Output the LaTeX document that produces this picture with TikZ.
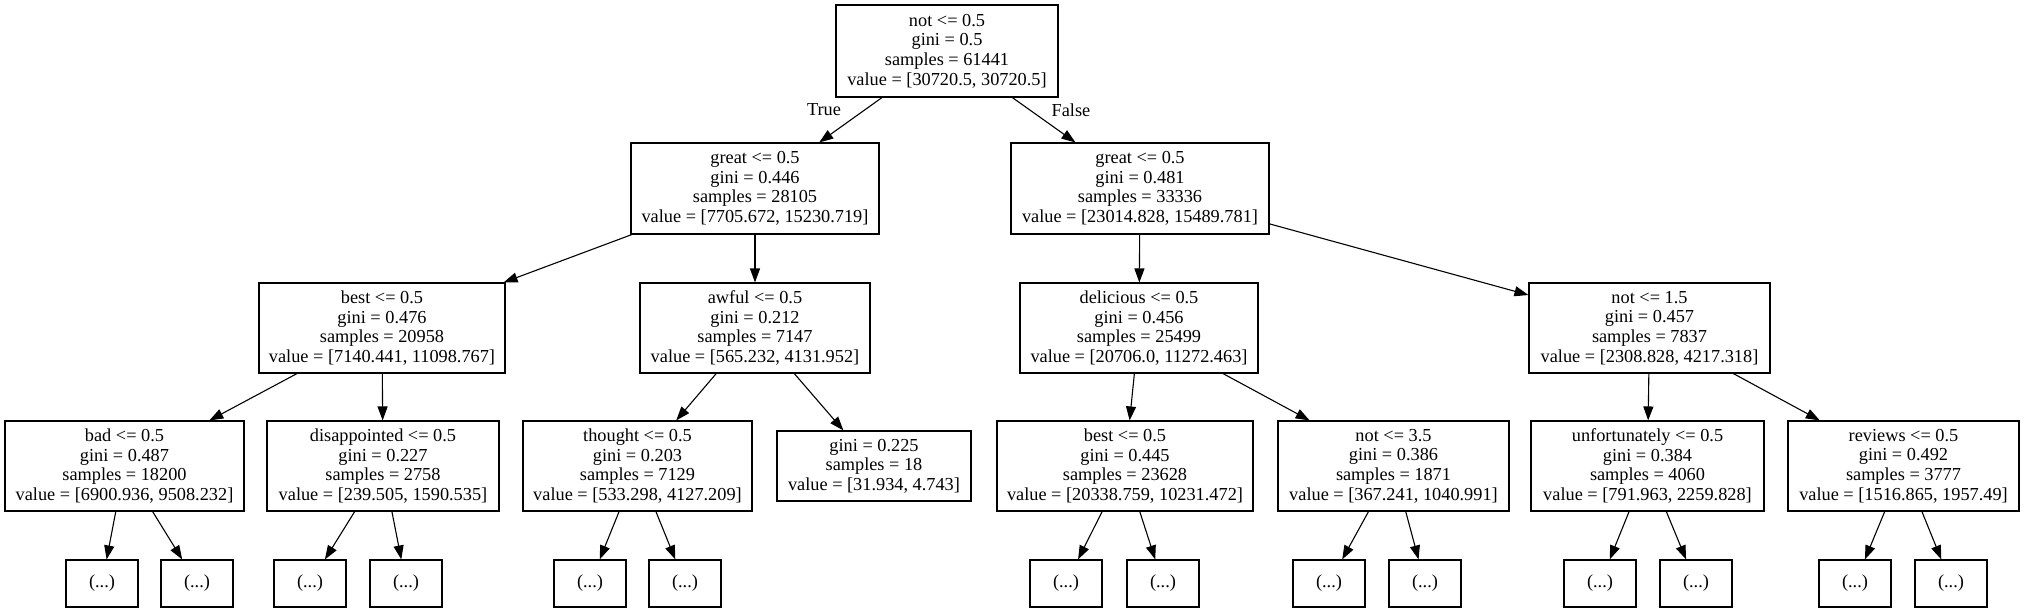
\documentclass[tikz,border=0pt]{standalone}
\usepackage{fontspec}
\setmainfont{Liberation Serif}
\usetikzlibrary{arrows.meta}
\tikzset{
  tbox/.style={draw, rectangle, line width=1.1pt, align=center, inner sep=0pt,
    minimum height=90pt, font=\fontsize{18.3}{19.6}\selectfont},
  ebox/.style={draw, rectangle, line width=1.1pt, inner sep=0pt,
    minimum width=72pt, minimum height=47pt, font=\fontsize{18.3}{19.6}\selectfont},
  edge/.style={line width=1.1pt, -{Triangle[length=14pt,width=10pt]}},
  elab/.style={font=\fontsize{18.3}{19.6}\selectfont, inner sep=0pt}
}
\begin{document}
\begin{tikzpicture}[x=1pt,y=-1pt]
\useasboundingbox (0,0) rectangle (2024,613);
% level 0
\node[tbox, minimum width=222pt, minimum height=92pt] (root) at (947,51) {not <= 0.5\\gini = 0.5\\samples = 61441\\value = [30720.5, 30720.5]};
% level 1
\node[tbox, minimum width=248pt, minimum height=91pt] (gL) at (755,188.5) {great <= 0.5\\gini = 0.446\\samples = 28105\\value = [7705.672, 15230.719]};
\node[tbox, minimum width=258pt, minimum height=91pt] (gR) at (1140,188.5) {great <= 0.5\\gini = 0.481\\samples = 33336\\value = [23014.828, 15489.781]};
% level 2
\node[tbox, minimum width=246pt] (best1) at (382,328) {best <= 0.5\\gini = 0.476\\samples = 20958\\value = [7140.441, 11098.767]};
\node[tbox, minimum width=230pt] (awful) at (755,328) {awful <= 0.5\\gini = 0.212\\samples = 7147\\value = [565.232, 4131.952]};
\node[tbox, minimum width=238pt] (deli) at (1139,328) {delicious <= 0.5\\gini = 0.456\\samples = 25499\\value = [20706.0, 11272.463]};
\node[tbox, minimum width=241pt] (not15) at (1649.5,328) {not <= 1.5\\gini = 0.457\\samples = 7837\\value = [2308.828, 4217.318]};
% level 3
\node[tbox, minimum width=239pt] (bad) at (124.5,466) {bad <= 0.5\\gini = 0.487\\samples = 18200\\value = [6900.936, 9508.232]};
\node[tbox, minimum width=232pt] (disap) at (383,466) {disappointed <= 0.5\\gini = 0.227\\samples = 2758\\value = [239.505, 1590.535]};
\node[tbox, minimum width=229pt] (thought) at (637.5,466) {thought <= 0.5\\gini = 0.203\\samples = 7129\\value = [533.298, 4127.209]};
\node[tbox, minimum width=194pt, minimum height=70pt] (leaf) at (874,466) {gini = 0.225\\samples = 18\\value = [31.934, 4.743]};
\node[tbox, minimum width=256pt] (best2) at (1125,466) {best <= 0.5\\gini = 0.445\\samples = 23628\\value = [20338.759, 10231.472]};
\node[tbox, minimum width=231pt] (not35) at (1393.5,466) {not <= 3.5\\gini = 0.386\\samples = 1871\\value = [367.241, 1040.991]};
\node[tbox, minimum width=233pt] (unf) at (1647.5,466) {unfortunately <= 0.5\\gini = 0.384\\samples = 4060\\value = [791.963, 2259.828]};
\node[tbox, minimum width=231pt] (rev) at (1903.5,466) {reviews <= 0.5\\gini = 0.492\\samples = 3777\\value = [1516.865, 1957.49]};
% level 4
\node[ebox] (e1) at (102,583.5) {(...)};
\node[ebox] (e2) at (197,583.5) {(...)};
\node[ebox] (e3) at (310,583.5) {(...)};
\node[ebox] (e4) at (406,583.5) {(...)};
\node[ebox] (e5) at (590,583.5) {(...)};
\node[ebox] (e6) at (685,583.5) {(...)};
\node[ebox] (e7) at (1066,583.5) {(...)};
\node[ebox] (e8) at (1163,583.5) {(...)};
\node[ebox] (e9) at (1329,583.5) {(...)};
\node[ebox] (e10) at (1425,583.5) {(...)};
\node[ebox] (e11) at (1600,583.5) {(...)};
\node[ebox] (e12) at (1696,583.5) {(...)};
\node[ebox] (e13) at (1855,583.5) {(...)};
\node[ebox] (e14) at (1951,583.5) {(...)};
% edges
\draw[edge] (root) -- (gL);
\draw[edge] (root) -- (gR);
\draw[edge] (gL) -- (best1);
\draw[edge] (gL) -- (awful);
\draw[edge] (gR) -- (deli);
\draw[edge] (gR) -- (not15);
\draw[edge] (best1) -- (bad);
\draw[edge] (best1) -- (disap);
\draw[edge] (awful) -- (thought);
\draw[edge] (awful) -- (leaf);
\draw[edge] (deli) -- (best2);
\draw[edge] (deli) -- (not35);
\draw[edge] (not15) -- (unf);
\draw[edge] (not15) -- (rev);
\draw[edge] (bad) -- (e1);
\draw[edge] (bad) -- (e2);
\draw[edge] (disap) -- (e3);
\draw[edge] (disap) -- (e4);
\draw[edge] (thought) -- (e5);
\draw[edge] (thought) -- (e6);
\draw[edge] (best2) -- (e7);
\draw[edge] (best2) -- (e8);
\draw[edge] (not35) -- (e9);
\draw[edge] (not35) -- (e10);
\draw[edge] (unf) -- (e11);
\draw[edge] (unf) -- (e12);
\draw[edge] (rev) -- (e13);
\draw[edge] (rev) -- (e14);
% edge labels
\node[elab] (ltrue) at (824,110) {True};
\node[elab] (lfalse) at (1071,110) {False};
\end{tikzpicture}
\end{document}
